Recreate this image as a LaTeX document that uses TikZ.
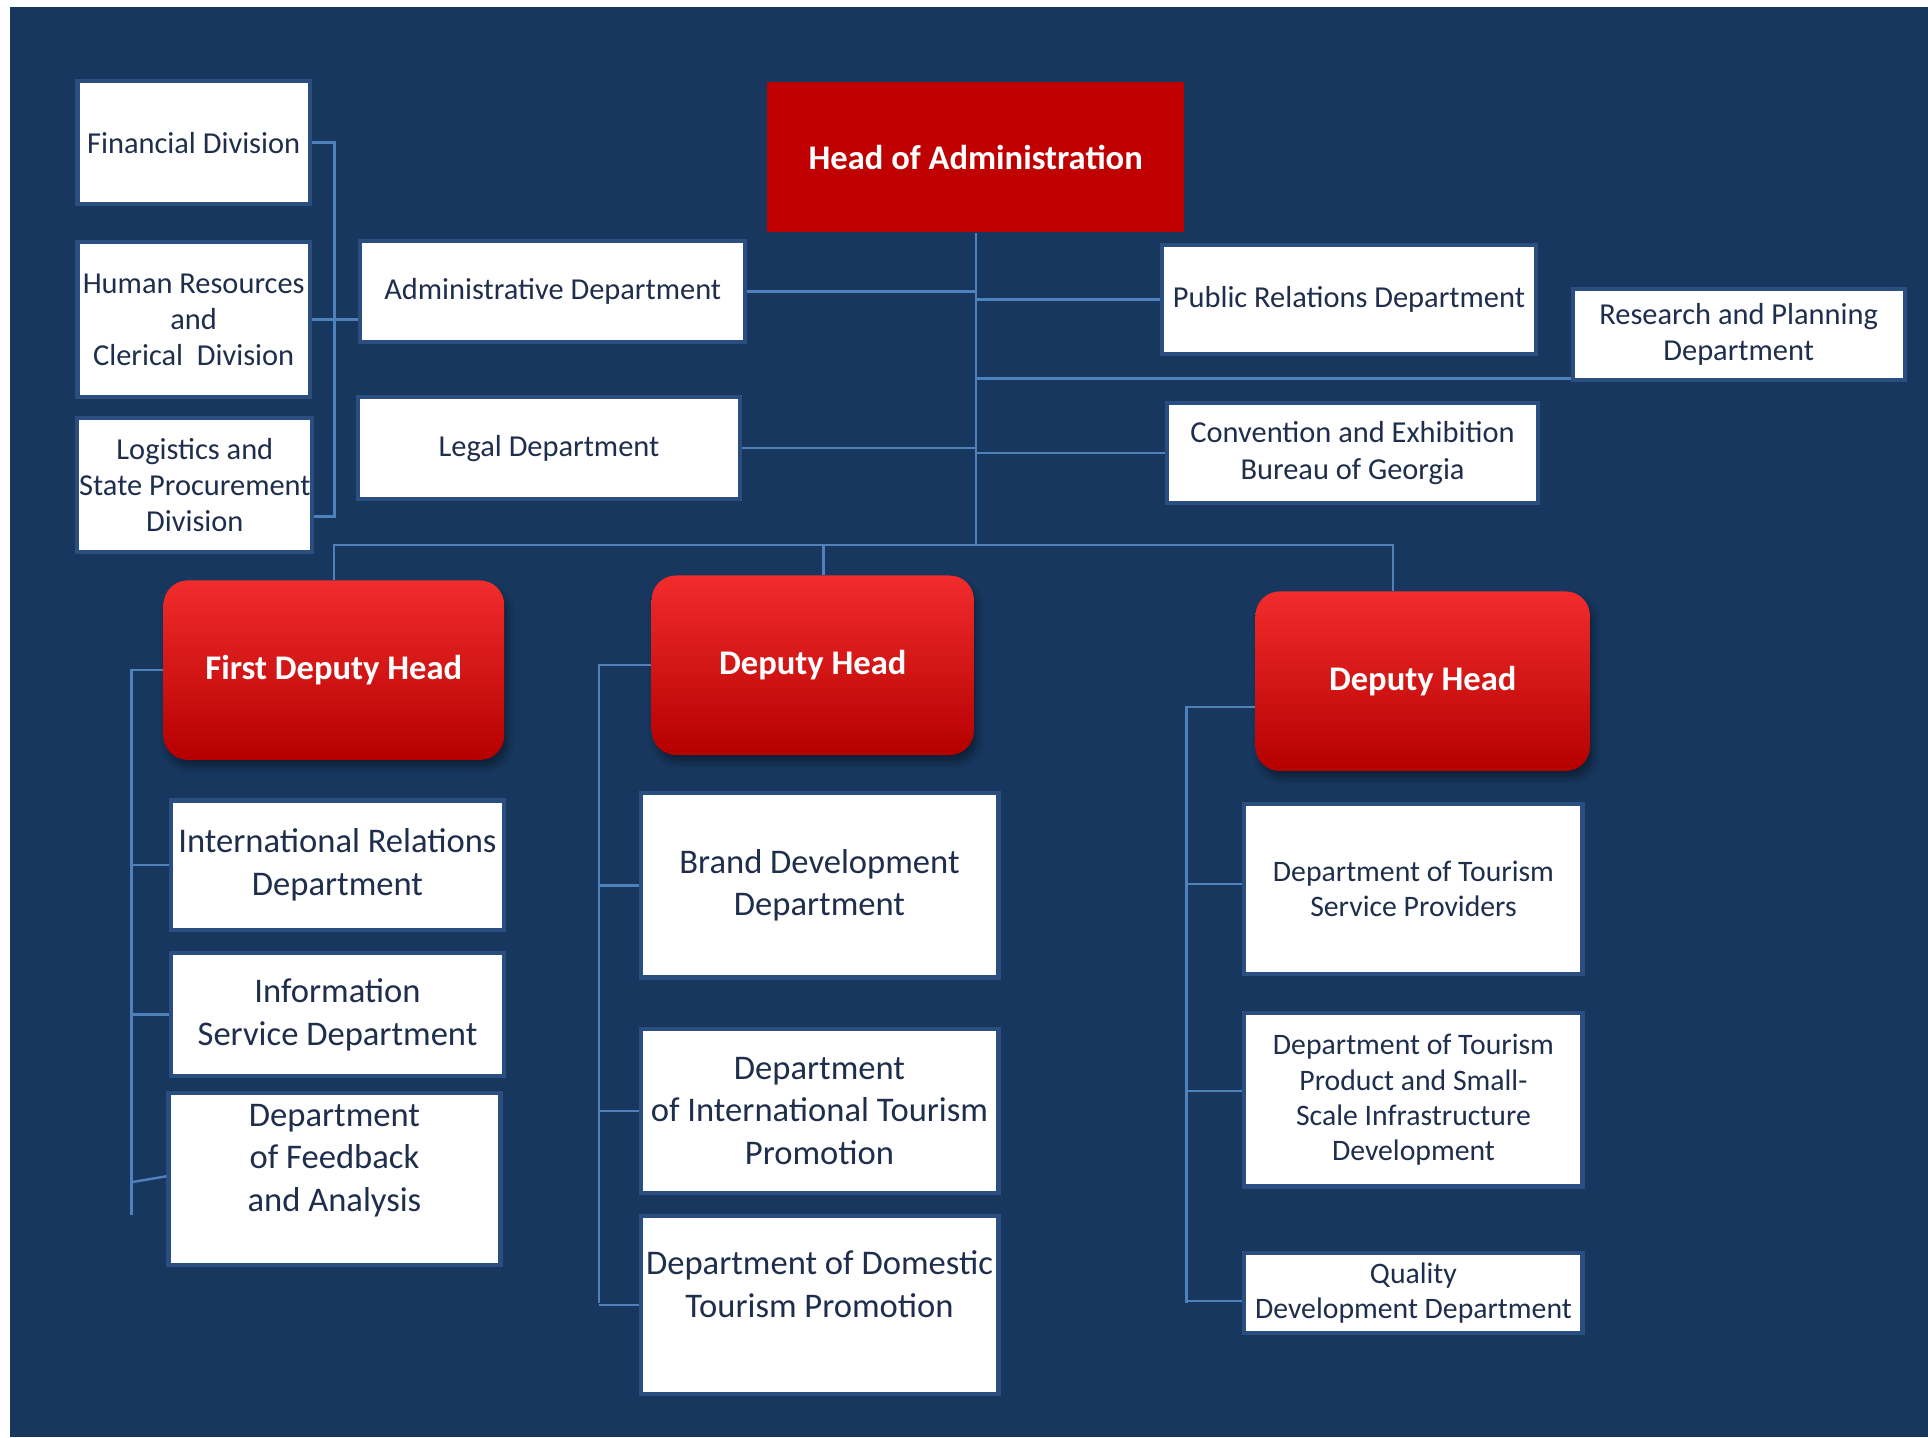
\documentclass[tikz,border=0pt]{standalone}
\usepackage{fontspec}
\setmainfont{Carlito}
\usepackage{tikz}
\usetikzlibrary{positioning, calc, shadows.blur}
\definecolor{bgnavy}{HTML}{17375E}
\definecolor{linkblue}{HTML}{4F81BD}
\definecolor{headred}{HTML}{C00000}
\definecolor{deputytop}{HTML}{F22C2C}
\definecolor{deputybottom}{HTML}{B50000}
\definecolor{boxrim}{HTML}{2B4E80}
\definecolor{textnavy}{HTML}{1E2E4C}

\begin{document}
\begin{tikzpicture}[
    every node/.style={font=\fontsize{8.8}{10.5}\selectfont},
    unit/.style={draw=boxrim, fill=white, line width=1.2pt, text=textnavy, align=center, inner sep=0pt},
    colbig/.style={font=\fontsize{10}{12.4}\selectfont},
    colsmall/.style={font=\fontsize{8.6}{10.2}\selectfont},
    chief/.style={fill=headred, text=white, font=\bfseries\fontsize{10}{12}\selectfont},
    deputy/.style={rounded corners=7pt, top color=deputytop, middle color=headred, bottom color=deputybottom,
      text=white, font=\bfseries\fontsize{10}{12}\selectfont,
      blur shadow={shadow blur steps=5, shadow xshift=1pt, shadow yshift=-2pt}},
    link/.style={linkblue, line width=0.7pt},
]

% Background
\useasboundingbox (0,0) rectangle (19.6,-14.6125);
\fill[bgnavy] (0.1,-0.075) rectangle (19.6,-14.6125);

% --- Top: head and its departments ---
\node[chief, minimum width=4.238cm, minimum height=1.525cm] (head) at (9.919,-1.6) {Head of Administration};

\node[unit, minimum width=2.363cm, minimum height=1.25cm] (fin) at (1.969,-1.45) {Financial Division};
\node[unit, minimum width=2.363cm, minimum height=1.575cm] (hr) at (1.969,-3.25) {Human Resources\\and\\Clerical\ \ Division};
\node[unit, minimum width=2.388cm, minimum height=1.363cm] (logi) at (1.981,-4.931) {Logistics and\\State Procurement\\Division};

\node[unit, minimum width=3.913cm, minimum height=1.025cm] (admin) at (5.619,-2.963) {Administrative Department};
\node[unit, minimum width=3.888cm, minimum height=1.038cm] (legal) at (5.581,-4.556) {Legal Department};

\node[unit, minimum width=3.8cm, minimum height=1.113cm] (pr) at (13.713,-3.044) {Public Relations Department};
\node[unit, minimum width=3.375cm, minimum height=0.925cm] (research) at (17.675,-3.4) {Research and Planning\\Department};
\node[unit, minimum width=3.775cm, minimum height=1.013cm] (conv) at (13.75,-4.606) {Convention and Exhibition\\Bureau of Georgia};

% --- Deputies ---
\node[deputy, minimum width=3.463cm, minimum height=1.825cm] (first) at (3.394,-6.813) {First Deputy Head};
\node[deputy, minimum width=3.275cm, minimum height=1.825cm] (deputyB) at (8.263,-6.763) {Deputy Head};
\node[deputy, minimum width=3.4cm, minimum height=1.825cm] (deputyC) at (14.463,-6.925) {Deputy Head};

% --- First deputy column ---
\node[unit, colbig, minimum width=3.388cm, minimum height=1.313cm] (intrel) at (3.431,-8.794) {International Relations\\Department};
\node[unit, colbig, minimum width=3.388cm, minimum height=1.25cm] (info) at (3.431,-10.313) {Information\\Service Department};
\node[unit, colbig, minimum width=3.375cm, minimum height=1.75cm] (feedback) at (3.4,-11.988) {Department\\of Feedback\\and Analysis\\\mbox{}};

% --- Second deputy column ---
\node[unit, colbig, minimum width=3.638cm, minimum height=1.875cm] (brand) at (8.331,-9.0) {Brand Development\\Department};
\node[unit, colbig, minimum width=3.638cm, minimum height=1.663cm] (intl) at (8.331,-11.294) {Department\\of International Tourism\\Promotion};
\node[unit, colbig, minimum width=3.638cm, minimum height=1.813cm] (dom) at (8.331,-13.269) {Department of Domestic\\Tourism Promotion\\\mbox{}};

% --- Third deputy column ---
\node[unit, colsmall, minimum width=3.438cm, minimum height=1.725cm] (svc) at (14.369,-9.038) {Department of Tourism\\Service Providers};
\node[unit, colsmall, minimum width=3.438cm, minimum height=1.763cm] (prod) at (14.369,-11.181) {Department of Tourism\\Product and Small-\\Scale Infrastructure\\Development};
\node[unit, colsmall, minimum width=3.438cm, minimum height=0.813cm] (qual) at (14.369,-13.144) {Quality\\Development Department};

% --- Connectors ---
\coordinate (bus) at (head.south |- 0,-5.538);
\coordinate (divbar) at (3.4,-3.25);
\coordinate (firstbar) at (1.3375,-12.35);
\coordinate (deputyBbar) at (6.0875,-13.25);
\coordinate (deputyCbar) at (12.0625,-13.25);

\draw[link] (head.south) -- (bus);
\draw[link] (admin.east) -- (admin.east -| bus);
\draw[link] (legal.east) -- (legal.east -| bus);
\draw[link] (pr.west) -- (pr.west -| bus);
\draw[link] (conv.west) -- (conv.west -| bus);
\draw[link] ([yshift=1pt]research.south west) -- ([yshift=1pt]research.south west -| bus);

\draw[link] (fin.east) -| (divbar) |- ([yshift=-3.2mm]logi.east);
\draw[link] (hr.east) -- (hr.east -| admin.west);

\draw[link] (first.north) |- (bus);
\draw[link] ([xshift=1.1mm]deputyB.north) -- ([xshift=1.1mm]deputyB.north |- bus);
\draw[link] (bus) -| ([xshift=-3mm]deputyC.north);

\draw[link] (first.west) -| (firstbar);
\draw[link] (intrel.west) -- (intrel.west -| firstbar);
\draw[link] (info.west) -- (info.west -| firstbar);
\draw[link] ([yshift=0.3mm]feedback.west) -- ([yshift=-0.3mm]feedback.west -| firstbar);

\draw[link] (deputyB.west) -| (deputyBbar);
\draw[link] (brand.west) -- (brand.west -| deputyBbar);
\draw[link] (intl.west) -- (intl.west -| deputyBbar);
\draw[link] (dom.west) -- (dom.west -| deputyBbar);

\draw[link] ([yshift=-2.6mm]deputyC.west) -| (deputyCbar);
\draw[link] ([yshift=0.5mm]svc.west) -- ([yshift=0.5mm]svc.west -| deputyCbar);
\draw[link] ([yshift=0.9mm]prod.west) -- ([yshift=0.9mm]prod.west -| deputyCbar);
\draw[link] ([yshift=-0.8mm]qual.west) -- ([yshift=-0.8mm]qual.west -| deputyCbar);

\end{tikzpicture}
\end{document}
